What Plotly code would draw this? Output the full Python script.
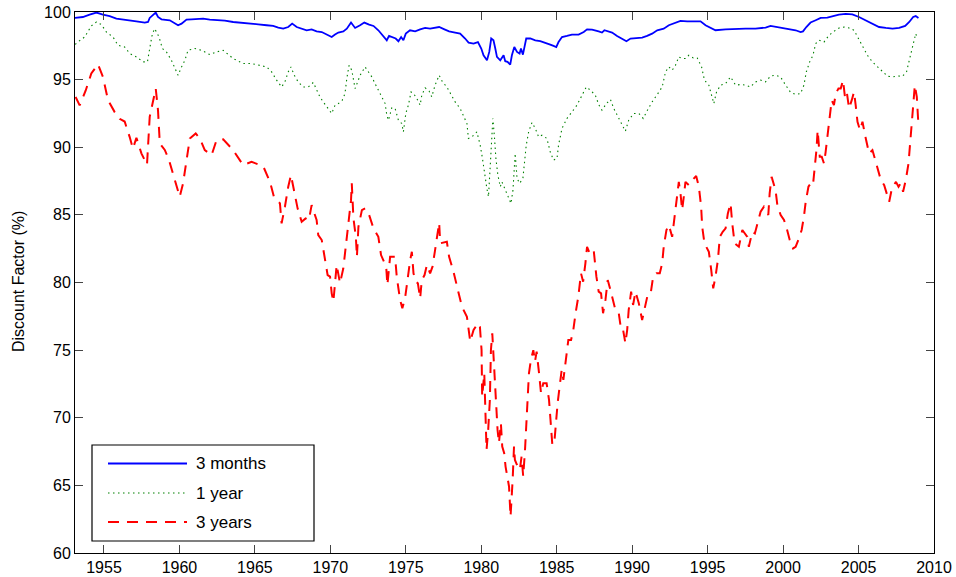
import plotly.graph_objects as go

# ---------------- data ----------------
red_x = [1953.12,1953.39,1953.79,1954.16,1954.6,1954.93,1955.27,1955.71,1956.04,1956.37,1956.7,1956.92,1957.15,1957.48,1957.85,
1958.03,1958.43,1958.58,1958.7,1959.03,1959.31,1959.58,1959.84,1960.02,1960.24,1960.47,1960.69,1961.08,1961.35,1961.68,1962.13,
1962.46,1962.9,1963.56,1964.22,1964.78,1965.55,1966.0,1966.26,1966.66,1966.77,1966.99,1967.21,1967.39,1967.61,1967.83,1968.1,
1968.36,1968.58,1968.76,1969.09,1969.2,1969.43,1969.6,1969.82,1969.98,1970.09,1970.2,1970.35,1970.42,1970.64,1970.86,1971.02,
1971.2,1971.37,1971.42,1971.53,1971.69,1971.76,1971.86,1972.09,1972.31,1972.57,1972.86,1973.18,1973.36,1973.7,1973.78,1973.96,
1974.29,1974.4,1974.62,1974.77,1974.95,1975.07,1975.29,1975.4,1975.51,1975.66,1975.8,1975.95,1976.06,1976.24,1976.4,1976.61,
1976.77,1976.94,1977.12,1977.21,1977.28,1977.72,1977.87,1978.16,1978.45,1978.72,1979.05,1979.16,1979.27,1979.49,1979.78,1979.91,
1980.02,1980.06,1980.2,1980.35,1980.46,1980.57,1980.64,1980.73,1980.86,1980.95,1981.08,1981.17,1981.3,1981.39,1981.52,1981.61,
1981.74,1981.84,1981.94,1982.01,1982.08,1982.17,1982.23,1982.41,1982.56,1982.67,1982.78,1982.9,1982.96,1983.05,1983.16,1983.29,
1983.45,1983.56,1983.67,1983.83,1983.96,1984.11,1984.33,1984.49,1984.62,1984.71,1984.84,1984.93,1985.06,1985.22,1985.33,1985.44,
1985.55,1985.66,1985.77,1985.95,1986.1,1986.25,1986.43,1986.61,1986.75,1986.9,1987.01,1987.18,1987.45,1987.63,1987.78,1987.94,
1988.07,1988.23,1988.38,1988.56,1988.78,1988.89,1989.11,1989.27,1989.4,1989.55,1989.67,1989.77,1989.93,1990.06,1990.22,1990.44,
1990.66,1990.82,1991.0,1991.21,1991.39,1991.61,1991.83,1991.99,1992.09,1992.27,1992.43,1992.65,1992.8,1992.92,1993.09,1993.2,
1993.31,1993.42,1993.53,1993.75,1993.98,1994.24,1994.42,1994.57,1994.64,1994.79,1995.08,1995.24,1995.37,1995.52,1995.68,1995.81,
1996.0,1996.19,1996.34,1996.52,1996.63,1996.79,1997.07,1997.3,1997.47,1997.63,1997.73,1997.96,1998.13,1998.29,1998.51,1998.73,
1999.02,1999.11,1999.24,1999.5,1999.62,1999.84,2000.06,2000.21,2000.44,2000.66,2000.83,2001.05,2001.23,2001.38,2001.5,2001.68,
2001.83,2001.98,2002.11,2002.21,2002.29,2002.43,2002.56,2002.71,2002.82,2002.96,2003.09,2003.22,2003.37,2003.49,2003.67,2003.82,
2003.97,2004.1,2004.22,2004.37,2004.55,2004.7,2004.81,2004.93,2005.1,2005.26,2005.48,2005.7,2005.92,2006.1,2006.26,2006.48,
2006.7,2006.92,2007.03,2007.21,2007.48,2007.65,2007.8,2007.95,2008.13,2008.31,2008.42,2008.53,2008.62,2008.73,2008.86,2008.93,
2008.97]
red_y = [93.72,93.1,94.2,95.45,96.14,95.2,93.48,92.6,92.1,91.9,90.77,89.9,90.7,89.55,88.7,
92.25,94.34,92.74,90.28,89.8,89.05,87.94,87.08,86.34,87.33,89.05,90.65,91.02,90.65,89.79,89.42,
90.53,90.58,89.79,88.68,88.92,88.6,87.44,86.34,85.85,84.37,85.6,87.08,87.94,86.59,85.48,84.49,
84.74,84.62,85.72,84.62,83.5,83.14,81.9,80.55,80.43,79.2,78.58,80.18,81.3,79.94,81.05,82.64,
84.62,86.09,87.33,84.74,83.38,81.9,84.12,85.35,85.48,84.99,84.0,83.38,82.03,81.17,79.82,81.9,
81.9,80.43,78.71,78.1,78.83,79.94,81.66,82.27,80.68,80.06,79.94,78.83,80.18,80.55,81.3,80.68,
81.17,82.4,83.88,84.42,82.9,83.01,81.9,80.8,79.45,78.21,77.47,76.49,75.63,76.49,76.99,76.74,
75.0,71.57,73.29,67.63,69.1,71.32,75.0,76.25,73.54,70.83,69.1,68.13,69.6,67.87,67.38,66.39,
65.66,64.92,62.7,63.94,65.41,67.87,66.88,66.39,66.15,67.13,65.66,67.63,69.1,71.57,73.29,74.28,
75.0,74.15,74.89,73.29,71.81,72.56,72.56,71.32,69.6,68.0,68.13,69.6,71.08,72.56,73.54,72.8,
73.78,75.0,75.75,75.75,76.49,77.73,78.95,80.68,80.06,81.42,82.64,82.16,82.4,80.43,79.32,79.2,
77.73,78.71,80.18,79.45,78.46,77.97,77.73,76.49,76.49,75.51,76.49,77.97,79.32,78.34,79.32,78.46,
77.23,77.97,78.95,79.08,80.43,80.68,80.68,81.42,82.64,83.88,84.25,83.38,84.86,86.09,87.44,86.59,
85.35,86.34,87.44,87.2,87.57,87.87,87.08,85.6,84.12,82.9,82.27,80.92,79.57,80.43,81.66,83.38,
83.75,84.0,85.11,85.85,84.37,82.9,82.64,83.88,83.63,83.38,82.64,83.75,83.63,84.37,85.23,85.6,
84.99,86.59,87.81,86.83,85.72,84.99,84.62,84.12,83.14,82.52,82.64,83.26,83.88,84.86,85.97,87.08,
87.33,87.2,88.55,89.79,91.26,89.3,89.3,88.8,89.66,91.02,92.25,93.48,93.11,93.97,94.34,94.34,
94.96,93.72,94.09,92.87,93.48,94.09,93.11,91.88,91.26,91.88,90.65,89.54,89.79,89.05,88.31,87.57,
87.2,86.34,85.97,86.96,87.44,87.08,87.33,86.71,87.57,88.8,90.28,91.76,93.24,94.59,93.72,92.74,
91.63]

green_x = [1953.1,1953.21,1953.72,1954.16,1954.5,1954.83,1955.16,1955.6,1955.93,1956.37,1956.71,1957.15,1957.59,1957.88,
1958.03,1958.21,1958.36,1958.65,1958.87,1959.14,1959.47,1959.69,1959.91,1960.14,1960.36,1960.57,1961.02,1961.46,1962.01,
1962.46,1962.9,1963.56,1964.22,1964.78,1965.44,1965.78,1966.11,1966.44,1966.77,1966.99,1967.21,1967.39,1967.61,1967.87,
1968.2,1968.54,1968.87,1969.09,1969.31,1969.53,1969.76,1970.09,1970.31,1970.53,1970.79,1970.97,1971.09,1971.24,1971.42,
1971.64,1971.81,1971.97,1972.3,1972.52,1972.75,1972.96,1973.18,1973.41,1973.63,1973.74,1973.85,1974.07,1974.29,1974.51,
1974.73,1974.84,1975.0,1975.17,1975.35,1975.51,1975.73,1975.95,1976.06,1976.28,1976.55,1976.72,1976.94,1977.21,1977.43,
1977.72,1977.94,1978.27,1978.6,1978.82,1979.05,1979.15,1979.38,1979.71,1979.93,1980.08,1980.22,1980.37,1980.48,1980.59,
1980.71,1980.77,1980.88,1980.97,1981.1,1981.26,1981.37,1981.59,1981.81,1981.97,1982.1,1982.19,1982.25,1982.37,1982.54,
1982.76,1982.85,1982.98,1983.14,1983.36,1983.58,1983.8,1984.02,1984.35,1984.57,1984.79,1985.02,1985.12,1985.35,1985.68,
1986.01,1986.34,1986.68,1986.96,1987.23,1987.56,1987.78,1988.0,1988.29,1988.56,1988.78,1989.0,1989.27,1989.55,1989.77,
1990.1,1990.44,1990.73,1990.95,1991.32,1991.66,1991.99,1992.21,1992.43,1992.65,1992.87,1993.09,1993.31,1993.53,1993.75,
1994.05,1994.31,1994.6,1994.79,1995.08,1995.31,1995.41,1995.59,1995.86,1996.19,1996.52,1996.85,1997.18,1997.51,1997.84,
1998.17,1998.51,1998.84,1999.17,1999.5,1999.83,2000.17,2000.5,2000.83,2001.16,2001.38,2001.54,2001.76,2001.98,2002.16,
2002.38,2002.71,2003.04,2003.37,2003.71,2004.04,2004.37,2004.7,2004.99,2005.26,2005.59,2005.92,2006.26,2006.59,2006.92,
2007.25,2007.58,2007.91,2008.18,2008.31,2008.46,2008.57,2008.68,2008.79,2008.9]
green_y = [97.6,97.74,98.15,98.97,99.26,99.07,98.52,98.15,97.54,97.41,96.93,96.68,96.31,96.31,
97.3,98.4,98.77,98.15,97.3,97.05,96.43,95.82,95.32,95.94,96.43,97.17,97.3,97.17,96.85,
97.05,97.17,96.56,96.19,96.19,95.99,95.94,95.57,94.96,94.46,94.83,95.57,95.94,95.32,94.83,
94.46,94.46,94.79,94.22,93.72,93.35,92.98,92.5,93.11,93.23,93.48,93.97,95.08,96.06,95.69,
94.34,94.83,95.32,95.94,95.57,95.2,94.71,94.22,93.72,93.23,92.37,92.0,92.91,92.87,92.0,
91.76,91.14,92.5,93.11,94.09,93.97,93.6,93.11,93.85,94.39,94.14,93.72,94.59,95.32,94.83,
94.46,93.97,93.35,92.87,92.37,91.76,90.65,90.77,91.14,90.15,89.17,87.94,86.96,86.34,88.92,
91.14,92.13,90.65,89.17,87.94,87.08,87.44,86.83,86.34,85.85,86.83,88.43,89.54,87.7,87.33,
87.7,88.92,90.15,91.14,91.83,91.39,90.77,90.89,90.65,89.66,89.05,89.17,90.15,91.39,92.13,
92.61,93.11,93.85,94.46,94.22,93.85,93.16,92.74,93.23,93.53,92.87,92.37,91.88,91.19,92.0,
92.5,92.5,92.13,92.61,93.35,93.9,94.46,95.57,95.94,95.69,96.06,96.68,96.56,96.56,96.8,
96.6,96.6,95.94,94.96,94.59,93.6,93.23,94.09,94.59,94.71,95.2,94.59,94.64,94.59,94.46,
94.83,94.96,94.83,95.27,95.32,95.2,94.59,94.05,93.9,93.97,94.59,95.57,96.31,96.8,97.67,
97.91,97.78,98.28,98.57,98.82,98.89,98.82,98.65,98.04,97.41,96.8,96.31,95.94,95.57,95.25,
95.2,95.27,95.25,95.57,96.19,96.93,97.54,98.04,98.4,98.04]

blue_x = [1953.06,1953.6,1954.05,1954.5,1954.93,1955.38,1955.82,1956.26,1956.71,1957.15,1957.7,1957.92,1958.03,1958.25,
1958.43,1958.58,1958.81,1959.36,1959.69,1959.91,1960.14,1960.47,1960.8,1961.24,1961.57,1962.01,1962.46,1963.01,1963.56,
1964.12,1964.67,1965.22,1965.78,1966.21,1966.55,1966.88,1967.21,1967.47,1967.77,1968.1,1968.43,1968.76,1969.09,1969.43,
1969.76,1970.09,1970.31,1970.53,1970.86,1971.09,1971.37,1971.64,1971.97,1972.25,1972.57,1972.86,1973.18,1973.45,1973.74,
1973.89,1974.11,1974.33,1974.51,1974.69,1974.84,1975.0,1975.28,1975.62,1975.95,1976.28,1976.61,1976.94,1977.21,1977.56,
1977.87,1978.27,1978.6,1978.93,1979.16,1979.49,1979.78,1980.0,1980.15,1980.38,1980.53,1980.66,1980.81,1980.93,1981.04,
1981.26,1981.48,1981.59,1981.74,1981.92,1982.03,1982.19,1982.37,1982.54,1982.63,1982.76,1982.85,1982.98,1983.25,1983.58,
1983.91,1984.24,1984.57,1984.79,1984.97,1985.12,1985.35,1985.68,1986.01,1986.45,1986.79,1987.01,1987.34,1987.78,1988.0,
1988.16,1988.38,1988.67,1989.0,1989.33,1989.62,1989.89,1990.22,1990.66,1990.99,1991.32,1991.66,1992.09,1992.43,1992.76,
1993.2,1993.65,1994.08,1994.53,1994.86,1995.19,1995.52,1996.19,1996.85,1997.51,1998.17,1998.84,1999.17,1999.61,2000.06,
2000.5,2000.83,2001.16,2001.32,2001.54,2001.82,2002.16,2002.49,2002.93,2003.26,2003.7,2004.15,2004.59,2005.03,2005.48,
2005.92,2006.36,2006.81,2007.25,2007.69,2008.09,2008.36,2008.62,2008.79,2008.97]
blue_y = [99.56,99.63,99.81,99.96,99.81,99.7,99.51,99.46,99.39,99.31,99.22,99.26,99.56,99.81,
99.96,99.63,99.46,99.39,99.14,99.02,99.14,99.44,99.46,99.46,99.51,99.44,99.41,99.36,99.26,
99.22,99.14,99.09,99.02,98.97,98.85,98.77,98.89,99.14,98.89,98.77,98.65,98.72,98.57,98.52,
98.33,98.15,98.33,98.48,98.57,98.77,99.22,98.82,99.02,99.22,99.07,98.97,98.65,98.28,97.91,
98.23,98.15,98.04,97.84,98.15,97.91,98.4,98.65,98.57,98.72,98.82,98.77,98.82,98.89,98.72,
98.57,98.48,98.4,98.04,97.74,97.67,97.78,97.3,96.8,96.43,97.05,98.04,97.91,97.3,96.68,
96.43,96.8,96.36,96.31,96.11,96.8,97.41,97.05,96.93,97.3,96.85,97.3,98.04,98.04,97.91,
97.84,97.74,97.59,97.49,97.41,97.78,98.15,98.23,98.33,98.33,98.52,98.72,98.7,98.57,98.48,
98.65,98.57,98.48,98.23,98.04,97.84,98.04,98.08,98.11,98.23,98.4,98.65,98.77,99.02,99.14,
99.34,99.31,99.31,99.31,99.02,98.82,98.65,98.72,98.77,98.77,98.77,98.85,98.97,98.89,98.82,
98.72,98.65,98.52,98.57,98.89,99.22,99.39,99.56,99.59,99.68,99.81,99.86,99.83,99.63,99.39,
99.14,98.89,98.82,98.77,98.82,98.97,99.26,99.63,99.7,99.56]

series_names = ["3 months", "1 year", "3 years"]
x_ticks = [1955, 1960, 1965, 1970, 1975, 1980, 1985, 1990, 1995, 2000, 2005, 2010]
y_ticks = [60, 65, 70, 75, 80, 85, 90, 95, 100]

# ---------------- styles ----------------
BLUE = "rgb(0,0,255)"
GREEN = "rgb(0,128,0)"
RED = "rgb(255,0,0)"
FONT = "Liberation Sans, Arial, Helvetica, sans-serif"

styles = [
    dict(color=BLUE, width=1.8, dash="solid"),
    dict(color=GREEN, width=1.1, dash="1.5px,3.5px"),
    dict(color=RED, width=2, dash="11px,8px"),
]

fig = go.Figure()
for xs, ys, name, st in zip([blue_x, green_x, red_x], [blue_y, green_y, red_y], series_names, styles):
    fig.add_trace(go.Scatter(x=xs, y=ys, mode="lines", name=name, line=st, showlegend=False))

W, H = 956, 577
ML, MR, MT, MB = 75, 22, 12, 24
PW, PH = W - ML - MR, H - MT - MB

def px2paper(px, py):
    return (px - ML) / PW, (H - MB - py) / PH

# manual legend (MATLAB-like, long sample lines)
lx0, ly0 = px2paper(92, 445)
lx1, ly1 = px2paper(314, 541)
shapes = [dict(type="rect", xref="paper", yref="paper", x0=lx0, y0=ly1, x1=lx1, y1=ly0,
               line=dict(color="black", width=1.2), fillcolor="white", layer="above")]
annotations = []
for name, st, ypix in zip(series_names, styles, [463.5, 493, 522]):
    ax0, ay = px2paper(108, ypix)
    ax1, _ = px2paper(187, ypix)
    shapes.append(dict(type="line", xref="paper", yref="paper", x0=ax0, x1=ax1, y0=ay, y1=ay,
                       line=st, layer="above"))
    tx, _ = px2paper(194, ypix)
    annotations.append(dict(text=name, xref="paper", yref="paper", x=tx, y=ay, xanchor="left",
                            yanchor="middle", showarrow=False, font=dict(family=FONT, size=17, color="black")))

# y-axis title placed as a rotated annotation
tx, ty = px2paper(18, 282)
annotations.append(dict(text="Discount Factor (%)", xref="paper", yref="paper", x=tx, y=ty,
                        xanchor="center", yanchor="middle", textangle=-90, showarrow=False,
                        font=dict(family=FONT, size=16, color="black")))

axis_common = dict(showgrid=False, zeroline=False, showline=True, linecolor="black", linewidth=1,
                   mirror="ticks", ticks="inside", ticklen=8, tickcolor="#444", tickwidth=1,
                   automargin=False,
                   tickfont=dict(family=FONT, size=16, color="black"))

fig.update_layout(
    width=W, height=H,
    margin=dict(l=ML, r=MR, t=MT, b=MB),
    paper_bgcolor="white", plot_bgcolor="white",
    xaxis=dict(range=[1953.08, 2010], tickvals=x_ticks, ticktext=[str(v) for v in x_ticks], **axis_common),
    yaxis=dict(range=[60, 100], tickvals=y_ticks, ticktext=[str(v) for v in y_ticks], **axis_common),
    shapes=shapes, annotations=annotations,
)

fig.write_html("out.html")
